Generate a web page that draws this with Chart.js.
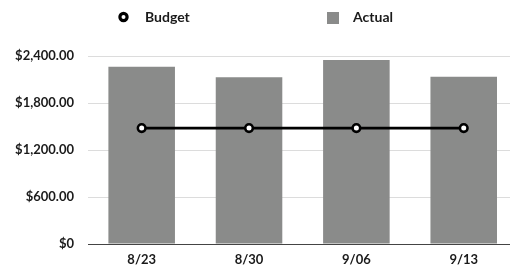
<!DOCTYPE html>
<html>
<head>
<meta charset="utf-8">
<script src="https://cdn.jsdelivr.net/npm/chart.js@4/dist/chart.umd.min.js"></script>
<style>
  html, body { margin: 0; padding: 0; background: #ffffff; overflow: hidden; width: 510px; height: 269px; }
  #wrap { position: relative; width: 510px; height: 269px; overflow: hidden; }
  #c { display: block; position: absolute; left: 0; top: 0; }
</style>
</head>
<body>
<div id="wrap"><canvas id="c" width="524" height="269" style="width:524px;height:269px"></canvas></div>
<script>
const categories = ['8/23', '8/30', '9/06', '9/13'];
const budgetValues = [1480, 1480, 1480, 1480];
const actualValues = [2263, 2128, 2349, 2136];
const yTickValues = [0, 600, 1200, 1800, 2400];
const yTickLabels = ['$0', '$600.00', '$1,200.00', '$1,800.00', '$2,400.00'];
const seriesNames = ['Budget', 'Actual'];

const FONT = 'Lato, "Open Sans", sans-serif';
const WEIGHT = 'bold';
const TEXT_COLOR = '#1a1a1a';
const BAR_COLOR = '#8a8b8a';

const customLegend = {
  id: 'customLegend',
  afterDraw(chart) {
    const ctx = chart.ctx;
    ctx.save();
    ctx.font = WEIGHT + ' 14px ' + FONT;
    ctx.textBaseline = 'alphabetic';
    ctx.textAlign = 'left';
    ctx.beginPath();
    ctx.arc(123.5, 17, 3.6, 0, Math.PI * 2);
    ctx.fillStyle = '#ffffff';
    ctx.fill();
    ctx.lineWidth = 3.2;
    ctx.strokeStyle = '#000';
    ctx.stroke();
    ctx.fillStyle = TEXT_COLOR;
    ctx.fillText(chart.data.datasets[0].label, 145, 22);
    ctx.fillStyle = BAR_COLOR;
    ctx.fillRect(327, 12, 12, 12);
    ctx.fillStyle = TEXT_COLOR;
    ctx.fillText(chart.data.datasets[1].label, 353, 22);
    ctx.restore();
  }
};

new Chart(document.getElementById('c'), {
  type: 'bar',
  data: {
    labels: categories,
    datasets: [
      {
        type: 'line',
        label: seriesNames[0],
        data: budgetValues,
        borderColor: '#000',
        borderWidth: 2.8,
        pointRadius: 3.8,
        pointBorderWidth: 2.6,
        pointBackgroundColor: '#fff',
        pointBorderColor: '#000',
        tension: 0,
        order: 0
      },
      {
        type: 'bar',
        label: seriesNames[1],
        data: actualValues,
        backgroundColor: BAR_COLOR,
        borderWidth: 0,
        categoryPercentage: 1,
        barPercentage: 0.62,
        order: 1
      }
    ]
  },
  options: {
    responsive: false,
    animation: false,
    devicePixelRatio: 1,
    layout: { padding: { top: 56, left: 0, right: 0, bottom: 0 } },
    plugins: {
      legend: { display: false },
      tooltip: { enabled: false }
    },
    scales: {
      x: {
        grid: { display: false, drawTicks: false },
        border: { display: true, color: '#444', width: 1 },
        ticks: { color: TEXT_COLOR, font: { family: FONT, size: 13, weight: WEIGHT }, padding: 8 },
        afterFit(s) { s.height = 25; }
      },
      y: {
        min: 0,
        max: 2400,
        afterBuildTicks(s) { s.ticks = yTickValues.map(v => ({ value: v })); },
        grid: {
          drawTicks: false,
          color: (c) => (c.tick && c.tick.value === 0) ? '#444' : '#dcdcdc',
          lineWidth: 1
        },
        border: { display: false },
        ticks: {
          color: TEXT_COLOR,
          font: { family: FONT, size: 13, weight: WEIGHT },
          padding: 14,
          callback: (v) => yTickLabels[yTickValues.indexOf(v)]
        },
        afterFit(s) { s.width = 88; }
      }
    }
  },
  plugins: [customLegend]
});
</script>
</body>
</html>
